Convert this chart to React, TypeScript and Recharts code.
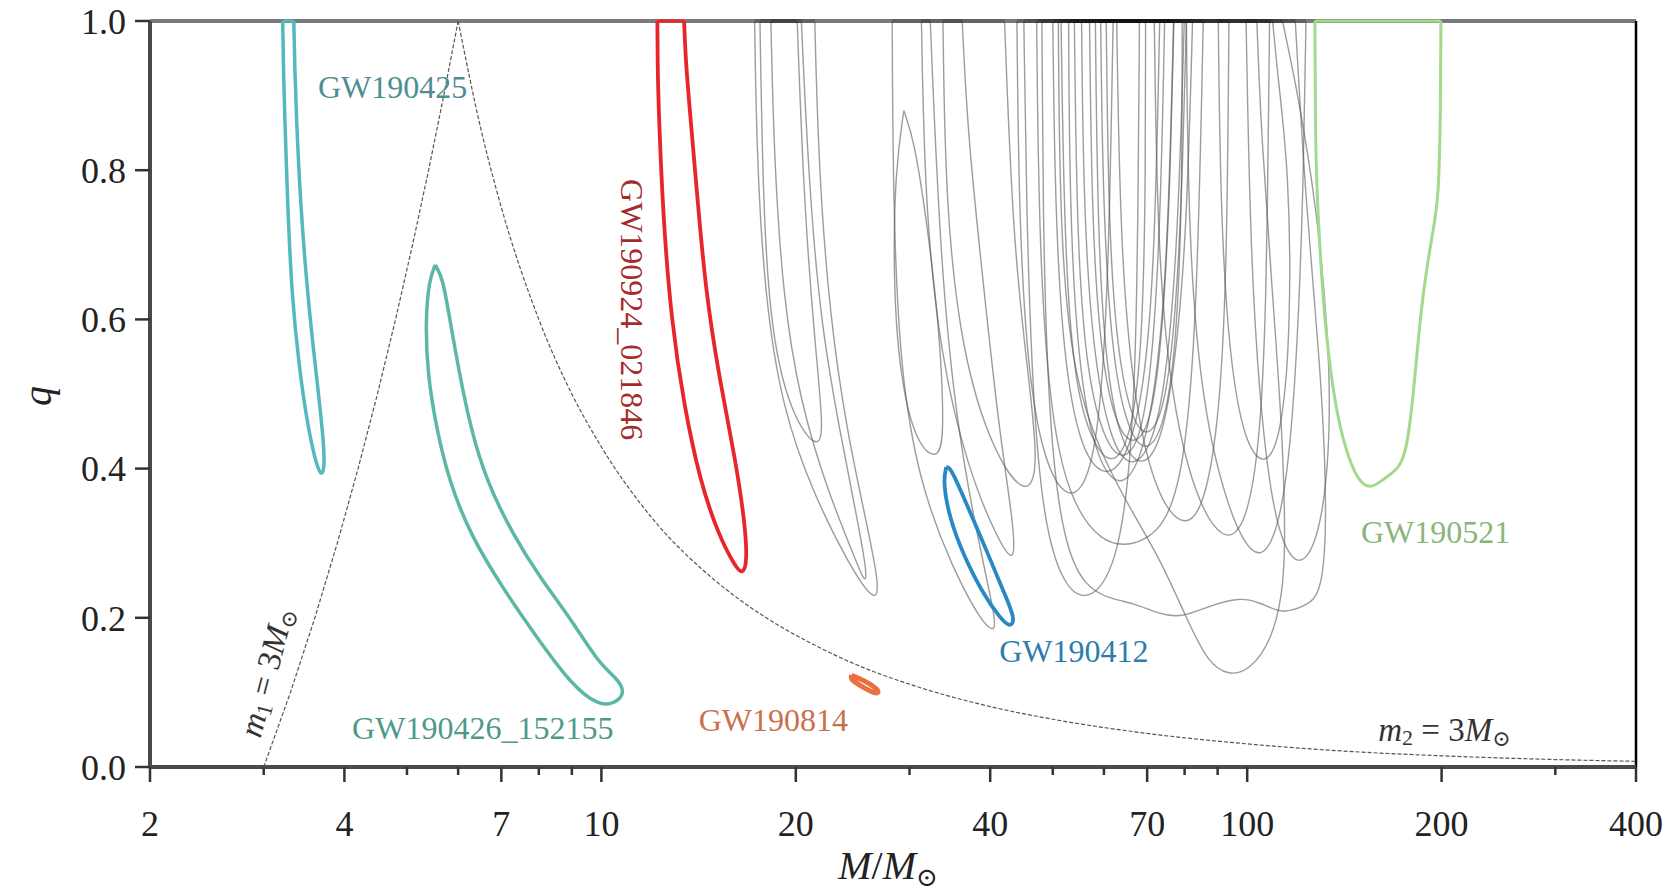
import { ReferenceDot, ReferenceLine, Scatter, ScatterChart, XAxis, YAxis } from "recharts";

type Pt = [number, number];

// [M/Msun, q] contour points for the highlighted events
const gw190425: Pt[] = [
  [3.21, 1], [3.22, 0.93], [3.23, 0.885], [3.27, 0.742], [3.32, 0.627], [3.4, 0.541], [3.49, 0.469], [3.6, 0.412],
  [3.68, 0.389], [3.73, 0.4], [3.71, 0.44], [3.65, 0.498], [3.57, 0.57], [3.49, 0.656], [3.42, 0.756],
  [3.37, 0.871], [3.35, 0.94], [3.34, 1],
];
const gw190426: Pt[] = [
  [5.53, 0.673], [5.41, 0.653], [5.34, 0.598], [5.38, 0.527], [5.55, 0.455], [5.81, 0.383], [6.27, 0.311],
  [7.03, 0.24], [8.03, 0.168], [9.0, 0.11], [9.9, 0.082], [10.49, 0.085], [10.89, 0.099], [10.61, 0.118],
  [9.9, 0.139], [9.0, 0.197], [8.03, 0.254], [7.3, 0.311], [6.64, 0.383], [6.27, 0.455], [6.03, 0.527],
  [5.83, 0.598], [5.68, 0.656],
];
const gw190924: Pt[] = [
  [12.21, 1], [12.22, 0.94], [12.26, 0.885], [12.45, 0.742], [12.83, 0.598], [13.43, 0.484], [14.22, 0.383],
  [15.18, 0.311], [16.13, 0.268], [16.56, 0.258], [16.82, 0.275], [16.69, 0.326], [16.13, 0.412], [15.18, 0.527],
  [14.49, 0.641], [14.06, 0.77], [13.69, 0.885], [13.5, 0.95], [13.43, 1],
];
const gw190814: Pt[] = [
  [24.4, 0.123], [25.7, 0.115], [27.0, 0.102], [26.7, 0.097], [25.5, 0.106], [24.3, 0.117],
];
const gw190412: Pt[] = [
  [34.2, 0.402], [33.8, 0.383], [34.6, 0.333], [36.4, 0.283], [39.0, 0.232], [41.5, 0.199], [42.9, 0.187],
  [43.8, 0.197], [42.1, 0.232], [39.8, 0.283], [37.3, 0.34], [35.5, 0.383], [34.6, 0.402],
];
const gw190521: Pt[] = [
  [127.3, 1], [127.5, 0.9], [127.7, 0.8], [130.0, 0.671], [132.3, 0.582], [137, 0.48], [142.1, 0.425],
  [148, 0.385], [155, 0.372], [162, 0.385], [172, 0.4], [176.6, 0.425], [181, 0.5], [186.2, 0.626],
  [194, 0.72], [197.9, 0.76], [199.3, 0.88], [199.5, 1],
];

// remaining BBH events, 90% contours in grey
const grayLoops: Pt[][] = [
  [[17.27, 1], [17.4, 0.82], [17.9, 0.63], [19.07, 0.48], [21.2, 0.37], [24.2, 0.27], [26.5, 0.22], [27.0, 0.24], [25.7, 0.33], [24.0, 0.45], [22.6, 0.6], [21.7, 0.8], [21.4, 1]],
  [[18.3, 1], [18.5, 0.82], [19.1, 0.63], [20.3, 0.49], [22.4, 0.37], [24.7, 0.28], [25.6, 0.245], [25.8, 0.26], [24.8, 0.34], [23.4, 0.45], [21.8, 0.6], [20.9, 0.8], [20.4, 1]],
  [[17.6, 1], [17.8, 0.75], [18.3, 0.58], [19.7, 0.47], [21.6, 0.425], [22.1, 0.45], [21.5, 0.55], [20.6, 0.75], [20.1, 1]],
  [[28.2, 1], [28.3, 0.75], [29.0, 0.53], [31.1, 0.38], [34.8, 0.27], [39.0, 0.19], [40.9, 0.18], [40.5, 0.21], [38.4, 0.3], [35.6, 0.45], [33.5, 0.67], [32.3, 1]],
  [[29.4, 0.88], [28.5, 0.8], [28.3, 0.65], [29.0, 0.52], [30.8, 0.43], [33.3, 0.41], [34.0, 0.45], [33.3, 0.6], [31.8, 0.74], [30.5, 0.84]],
  [[31.3, 1], [31.7, 0.75], [33.5, 0.55], [36.9, 0.4], [41.3, 0.3], [43.8, 0.27], [43.4, 0.33], [41.3, 0.45], [39.0, 0.65], [36.9, 0.85], [36.2, 1]],
  [[33.8, 1], [34.1, 0.75], [36.2, 0.55], [40.5, 0.42], [45.5, 0.36], [47.6, 0.4], [45.9, 0.52], [43.4, 0.7], [42.1, 1]],
  [[45.1, 1], [45.5, 0.75], [46.5, 0.5], [48.3, 0.33], [51.9, 0.24], [57.1, 0.22], [62.8, 0.27], [66.0, 0.4], [67.6, 0.6], [68.1, 1]],
  [[48.1, 1], [48.3, 0.7], [49.4, 0.45], [51.9, 0.3], [56.1, 0.24], [61.7, 0.225], [66.5, 0.22], [73.2, 0.205], [79.0, 0.2], [86.8, 0.215], [97.4, 0.228], [105.1, 0.22], [113.4, 0.205], [122.3, 0.215], [131.0, 0.23], [133.1, 0.35], [129.6, 0.55], [123.3, 0.75], [118.7, 1]],
  [[51.0, 1], [51.3, 0.7], [53.9, 0.52], [59.3, 0.42], [66.5, 0.34], [73.2, 0.28], [80.5, 0.2], [86.8, 0.14], [93.7, 0.122], [101.1, 0.13], [109.1, 0.17], [113.4, 0.23], [114.7, 0.3], [113.4, 0.45], [109.1, 0.65], [105.1, 0.85], [103.5, 1]],
  [[50.0, 1], [50.4, 0.75], [51.9, 0.55], [55.0, 0.43], [59.3, 0.39], [64.0, 0.4], [68.6, 0.48], [71.8, 0.65], [73.2, 1]],
  [[52.9, 1], [53.1, 0.75], [54.6, 0.55], [57.6, 0.43], [62.1, 0.375], [67.0, 0.39], [71.2, 0.47], [75.2, 0.65], [76.9, 1]],
  [[55.4, 1], [55.8, 0.75], [57.6, 0.56], [61.2, 0.44], [65.5, 0.4], [70.4, 0.42], [74.6, 0.5], [78.1, 0.7], [79.9, 1]],
  [[58.2, 1], [58.7, 0.7], [60.7, 0.52], [64.0, 0.43], [68.6, 0.4], [73.2, 0.43], [76.9, 0.52], [80.5, 0.7], [82.3, 1]],
  [[47.2, 1], [47.6, 0.7], [49.4, 0.48], [52.9, 0.36], [59.3, 0.3], [66.5, 0.295], [74.6, 0.32], [79.9, 0.4], [83.6, 0.6], [85.5, 1]],
  [[62.8, 1], [63.6, 0.7], [66.5, 0.5], [71.8, 0.37], [79.0, 0.32], [85.2, 0.34], [90.2, 0.45], [93.0, 0.65], [93.7, 1]],
  [[71.8, 1], [72.6, 0.7], [76.0, 0.5], [83.0, 0.36], [91.9, 0.3], [99.2, 0.32], [104.3, 0.42], [107.1, 0.6], [108.3, 1]],
  [[80.5, 1], [81.1, 0.7], [85.2, 0.48], [93.7, 0.34], [101.9, 0.28], [109.1, 0.29], [115.6, 0.38], [120.0, 0.58], [122.3, 0.8], [123.3, 1]],
  [[90.2, 1], [90.9, 0.75], [93.7, 0.55], [99.2, 0.43], [107.1, 0.4], [113.4, 0.45], [116.9, 0.6], [116.0, 0.8], [111.7, 0.92], [109.5, 1]],
  [[113.4, 1], [120.0, 0.9], [128.1, 0.75], [133.6, 0.58], [134.6, 0.45], [131.0, 0.33], [123.3, 0.27], [115.6, 0.28], [109.1, 0.35], [104.3, 0.5], [101.1, 0.7], [99.6, 1]],
  [[51.5, 1], [52.1, 0.7], [53.9, 0.52], [57.1, 0.44], [61.7, 0.4], [66.0, 0.44], [68.6, 0.55], [69.6, 0.75], [69.6, 1]],
  [[59.3, 1], [59.8, 0.75], [61.7, 0.55], [65.3, 0.45], [69.6, 0.42], [74.0, 0.45], [77.5, 0.55], [79.3, 0.75], [79.3, 1]],
  [[54.0, 1], [54.5, 0.7], [56.5, 0.52], [60.5, 0.43], [64.5, 0.41], [68.5, 0.44], [71.5, 0.55], [73.5, 0.75], [74.5, 1]],
  [[57.0, 1], [57.5, 0.72], [59.5, 0.54], [63.0, 0.45], [67.0, 0.43], [71.0, 0.46], [74.0, 0.58], [76.0, 0.78], [77.0, 1]],
  [[60.5, 1], [61.0, 0.72], [63.0, 0.55], [66.5, 0.46], [70.5, 0.44], [74.5, 0.48], [77.5, 0.6], [79.5, 0.8], [80.5, 1]],
  [[44.0, 1], [44.3, 0.75], [45.5, 0.55], [48.0, 0.42], [52.0, 0.36], [56.0, 0.37], [59.0, 0.45], [61.0, 0.65], [62.0, 1]],
];

// m1 = 3 Msun and m2 = 3 Msun boundaries
const m1Bound: Pt[] = [
  [3.0, 0], [3.3, 0.1], [3.6, 0.2], [3.9, 0.3], [4.2, 0.4], [4.5, 0.5], [4.8, 0.6], [5.1, 0.7], [5.4, 0.8], [5.7, 0.9], [6.0, 1],
];
const m2Bound: Pt[] = [
  [6, 1], [6.5, 0.857], [7, 0.75], [8, 0.6], [9, 0.5], [10, 0.429], [12, 0.333], [15, 0.25], [18, 0.2], [21, 0.167],
  [25, 0.136], [30, 0.111], [40, 0.081], [50, 0.064], [70, 0.045], [100, 0.031], [150, 0.02], [200, 0.015], [300, 0.01], [400, 0.0076],
];

const majorTicks = [2, 4, 7, 10, 20, 40, 70, 100, 200, 400];
const minorTicks = [3, 5, 6, 8, 9, 30, 50, 60, 80, 90, 300];
const qTicks = [0, 0.2, 0.4, 0.6, 0.8, 1];

const eventNames = ["GW190425", "GW190426_152155", "GW190924_021846", "GW190814", "GW190412", "GW190521"];
const eventContours = [gw190425, gw190426, gw190924, gw190814, gw190412, gw190521];
const eventLine = ["#55b8bf", "#5db7a6", "#e8262a", "#ea7040", "#2a89c4", "#a2d98c"];
const eventText = ["#4d8e92", "#4d9a8a", "#a52c2c", "#c9704c", "#2d7cad", "#8ab57a"];
const eventWidth = [3.5, 3.5, 3.8, 5, 3.8, 3];
const labelMass = [4.75, 6.55, 11.17, 18.46, 53.9, 195.8];
const labelQ = [0.911, 0.052, 0.613, 0.063, 0.155, 0.315];
const labelAngle = [0, 0, 90, 0, 0, 0];

const SERIF = '"Liberation Serif", "DejaVu Serif", serif';
const W = 1677;
const H = 893;

const asRows = (pts: Pt[]) => pts.map(([m, q]) => ({ m, q }));
const touchesTop = (pts: Pt[]) => pts[0][1] === 1 && pts[pts.length - 1][1] === 1;
// loops cut by q = 1 are drawn open, the cut itself as a straight segment along the top
const loopRows = (pts: Pt[]) => (touchesTop(pts) ? asRows(pts) : asRows([...pts, pts[0]]));
const topCut = (pts: Pt[]) => asRows([pts[pts.length - 1], pts[0]]);
const noDot = () => <g />;

function MassTick(props: any) {
  const { x, y, payload } = props;
  const major = majorTicks.includes(payload.value);
  return (
    <g>
      <line x1={x} x2={x} y1={y} y2={y + (major ? 15 : 8)} stroke="#333" strokeWidth={2.5} />
      {major && (
        <text x={x} y={y + 69} textAnchor="middle" fontSize={36} fill="#222" fontFamily={SERIF}>
          {payload.value}
        </text>
      )}
    </g>
  );
}

function centre(props: any) {
  const vb = props.viewBox || {};
  return [vb.x + (vb.width || 0) / 2, vb.y + (vb.height || 0) / 2];
}

function eventLabel(text: string, color: string, angle: number) {
  return (props: any) => {
    const [cx, cy] = centre(props);
    return (
      <text
        x={cx}
        y={cy}
        transform={angle ? `rotate(${angle} ${cx} ${cy})` : undefined}
        textAnchor="middle"
        dominantBaseline="central"
        fontSize={32}
        fill={color}
        fontFamily={SERIF}
      >
        {text}
      </text>
    );
  };
}

function boundLabel(index: string, angle: number) {
  return (props: any) => {
    const [cx, cy] = centre(props);
    return (
      <text
        x={cx}
        y={cy}
        transform={angle ? `rotate(${angle} ${cx} ${cy})` : undefined}
        textAnchor="middle"
        dominantBaseline="central"
        fontSize={33}
        fill="#333"
        fontFamily={SERIF}
      >
        <tspan fontStyle="italic">m</tspan>
        <tspan fontSize={22} dy={7}>{index}</tspan>
        <tspan dy={-7}> = 3</tspan>
        <tspan fontStyle="italic">M</tspan>
        <tspan fontSize={22} dy={8}>⊙</tspan>
      </text>
    );
  };
}

export default function App() {
  return (
    <div style={{ position: "absolute", left: 0, top: 0, width: W, height: H, background: "#fff", fontFamily: SERIF }}>
      <ScatterChart width={W} height={H} margin={{ top: 21, right: 41, bottom: 46, left: 70 }}>
        <XAxis
          dataKey="m"
          type="number"
          scale="log"
          domain={[2, 400]}
          allowDataOverflow
          ticks={[...majorTicks, ...minorTicks].sort((a, b) => a - b)}
          interval={0}
          tickSize={0}
          tickMargin={0}
          tick={<MassTick />}
          axisLine={{ stroke: "#4a4a4a", strokeWidth: 4 }}
          height={80}
        />
        <YAxis
          dataKey="q"
          type="number"
          domain={[0, 1]}
          ticks={qTicks}
          interval={0}
          tickFormatter={(v: number) => v.toFixed(1)}
          tickSize={15}
          tickMargin={9}
          tick={{ fontSize: 36, fill: "#222", fontFamily: SERIF }}
          tickLine={{ stroke: "#333", strokeWidth: 2.5 }}
          axisLine={{ stroke: "#4a4a4a", strokeWidth: 4 }}
          width={80}
        />

        <ReferenceLine y={1} stroke="#7a7a7a" strokeWidth={4} ifOverflow="visible" />
        <ReferenceLine x={400} stroke="#000" strokeWidth={2.5} ifOverflow="visible" />

        {grayLoops.map((loop, i) => (
          <Scatter
            key={`g${i}`}
            data={loopRows(loop)}
            shape={noDot}
            line={{ stroke: "#5a5a5a", strokeWidth: 1.4, strokeOpacity: 0.6, fill: "none" }}
            lineType="joint"
            lineJointType="basis"
            isAnimationActive={false}
          />
        ))}
        {grayLoops.filter(touchesTop).map((loop, i) => (
          <Scatter
            key={`gt${i}`}
            data={topCut(loop)}
            shape={noDot}
            line={{ stroke: "#111", strokeWidth: 4, strokeOpacity: 0.22, fill: "none" }}
            lineType="joint"
            lineJointType="linear"
            isAnimationActive={false}
          />
        ))}

        <Scatter
          data={asRows(m1Bound)}
          shape={noDot}
          line={{ stroke: "#555", strokeWidth: 1.2, strokeDasharray: "4 2", fill: "none" }}
          lineType="joint"
          lineJointType="linear"
          isAnimationActive={false}
        />
        <Scatter
          data={asRows(m2Bound)}
          shape={noDot}
          line={{ stroke: "#555", strokeWidth: 1.2, strokeDasharray: "4 2", fill: "none" }}
          lineType="joint"
          lineJointType="monotoneX"
          isAnimationActive={false}
        />

        {eventContours.map((pts, i) => (
          <Scatter
            key={eventNames[i]}
            data={loopRows(pts)}
            shape={noDot}
            line={{ stroke: eventLine[i], strokeWidth: eventWidth[i], fill: "none" }}
            lineType="joint"
            lineJointType="basis"
            isAnimationActive={false}
          />
        ))}
        {eventContours.map((pts, i) =>
          touchesTop(pts) ? (
            <Scatter
              key={`${eventNames[i]}-top`}
              data={topCut(pts)}
              shape={noDot}
              line={{ stroke: eventLine[i], strokeWidth: 3, fill: "none" }}
              lineType="joint"
              lineJointType="linear"
              isAnimationActive={false}
            />
          ) : null
        )}

        {eventNames.map((name, i) => (
          <ReferenceDot
            key={`l${name}`}
            x={labelMass[i]}
            y={labelQ[i]}
            r={0}
            stroke="none"
            fill="none"
            ifOverflow="visible"
            label={eventLabel(name, eventText[i], labelAngle[i])}
          />
        ))}
        <ReferenceDot x={3.03} y={0.127} r={0} stroke="none" fill="none" ifOverflow="visible" label={boundLabel("1", -75.4)} />
        <ReferenceDot x={202} y={0.05} r={0} stroke="none" fill="none" ifOverflow="visible" label={boundLabel("2", 0)} />
      </ScatterChart>

      <svg width={W} height={H} style={{ position: "absolute", left: 0, top: 0, pointerEvents: "none" }}>
        <text x={888} y={879} textAnchor="middle" fontSize={40} fill="#222" fontFamily={SERIF}>
          <tspan fontStyle="italic">M</tspan>
          <tspan>/</tspan>
          <tspan fontStyle="italic">M</tspan>
          <tspan fontSize={26} dy={7}>⊙</tspan>
        </text>
        <text
          x={37}
          y={396}
          transform="rotate(-90 37 396)"
          textAnchor="middle"
          dominantBaseline="central"
          fontSize={40}
          fontStyle="italic"
          fill="#222"
          fontFamily={SERIF}
        >
          q
        </text>
      </svg>
    </div>
  );
}
